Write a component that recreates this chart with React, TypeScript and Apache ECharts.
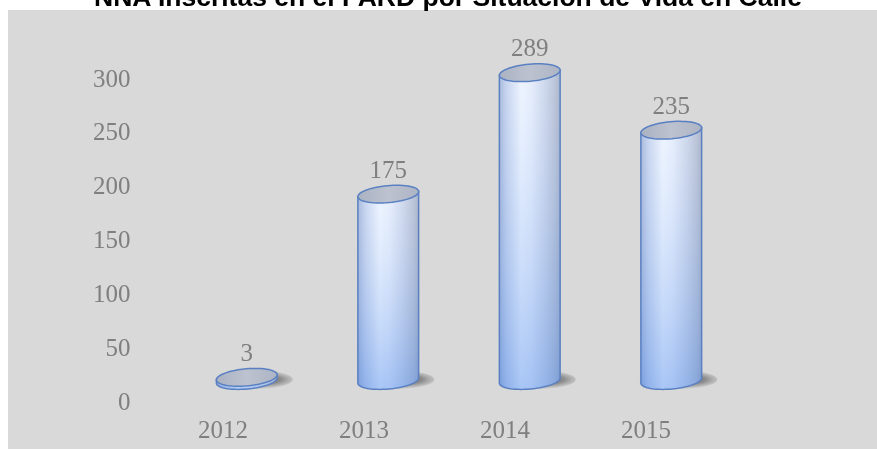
import React, { useEffect, useRef } from "react";
import * as echarts from "echarts";

const titleText = "NNA Inscritas en el PARD por Situación de Vida en Calle";
const years = ["2012", "2013", "2014", "2015"];
const counts = [3, 175, 289, 235];
const yMin = 0;
const yMax = 300;
const yStep = 50;

const TILT = 0.09;

function tiltPt(cx: number, cy: number, rx: number, ry: number, t: number) {
  const x = rx * Math.cos(t);
  const y = ry * Math.sin(t);
  const c = Math.cos(TILT);
  const s = Math.sin(TILT);
  return [cx + x * c + y * s, cy - x * s + y * c];
}

const CylBody = (echarts.graphic as any).extendShape({
  type: "cylBody",
  shape: { cx: 0, top: 0, base: 0, rx: 0, ry: 0 },
  buildPath(ctx: any, sh: any) {
    const n = 40;
    const tl = tiltPt(sh.cx, sh.top, sh.rx, sh.ry, Math.PI);
    ctx.moveTo(tl[0], tl[1]);
    for (let k = 0; k <= n; k++) {
      const t = Math.PI - (Math.PI * k) / n;
      const p = tiltPt(sh.cx, sh.base, sh.rx, sh.ry, t);
      ctx.lineTo(p[0], p[1]);
    }
    const tr = tiltPt(sh.cx, sh.top, sh.rx, sh.ry, 0);
    ctx.lineTo(tr[0], tr[1]);
    ctx.closePath();
  },
});
(echarts.graphic as any).registerShape("cylBody", CylBody);

const TiltEllipse = (echarts.graphic as any).extendShape({
  type: "tiltEllipse",
  shape: { cx: 0, cy: 0, rx: 0, ry: 0 },
  buildPath(ctx: any, sh: any) {
    const n = 60;
    for (let k = 0; k <= n; k++) {
      const t = (2 * Math.PI * k) / n;
      const p = tiltPt(sh.cx, sh.cy, sh.rx, sh.ry, t);
      if (k === 0) ctx.moveTo(p[0], p[1]);
      else ctx.lineTo(p[0], p[1]);
    }
    ctx.closePath();
  },
});
(echarts.graphic as any).registerShape("tiltEllipse", TiltEllipse);

const labelFont = '"Liberation Serif", "Times New Roman", serif';
const labelColor = "#7f7f7f";
const edgeColor = "#5a80c2";

function renderCylinder(params: any, api: any) {
  const i = api.value(0);
  const v = api.value(1);
  const top = api.coord([i, v]);
  const bot = api.coord([i, 0]);
  const cx = top[0];
  const rx = 30.5;
  const ry = 8.5;
  const bodyShape = { cx, top: top[1], base: bot[1], rx, ry };
  return {
    type: "group",
    children: [
      {
        type: "ellipse",
        shape: { cx: cx + 2, cy: bot[1] - 1, rx: 44, ry: 10 },
        style: {
          fill: new echarts.graphic.RadialGradient(0.6, 0.5, 0.5, [
            { offset: 0, color: "rgba(45,45,45,0.85)" },
            { offset: 0.55, color: "rgba(70,70,70,0.5)" },
            { offset: 1, color: "rgba(130,130,130,0)" },
          ]),
        },
      },
      {
        type: "cylBody",
        shape: bodyShape,
        style: {
          fill: new echarts.graphic.LinearGradient(0, 0, 1, 0, [
            { offset: 0, color: "#8ea3cf" },
            { offset: 0.12, color: "#b7c8ea" },
            { offset: 0.36, color: "#e8f1ff" },
            { offset: 0.52, color: "#dfe9fc" },
            { offset: 0.75, color: "#bfcce6" },
            { offset: 0.92, color: "#a5b1cb" },
            { offset: 1, color: "#909db8" },
          ]),
          stroke: "none",
        },
      },
      {
        type: "cylBody",
        shape: bodyShape,
        style: {
          fill: new echarts.graphic.LinearGradient(0, 0, 0, 1, [
            { offset: 0, color: "rgba(255,255,255,0.25)" },
            { offset: 1, color: "rgba(105,155,235,0.5)" },
          ]),
          stroke: "none",
        },
      },
      {
        type: "cylBody",
        shape: bodyShape,
        style: { fill: "none", stroke: edgeColor, lineWidth: 1.5 },
      },
      {
        type: "tiltEllipse",
        shape: { cx, cy: top[1], rx, ry },
        style: {
          fill: new echarts.graphic.LinearGradient(0, 0, 1, 0, [
            { offset: 0, color: "#aab2c3" },
            { offset: 0.5, color: "#bcc2cf" },
            { offset: 1, color: "#adb4c4" },
          ]),
          stroke: edgeColor,
          lineWidth: 1.5,
        },
      },
      {
        type: "text",
        x: cx,
        y: top[1] - 25,
        style: {
          text: String(v),
          fill: labelColor,
          font: `25px ${labelFont}`,
          align: "center",
          verticalAlign: "middle",
        },
      },
    ],
  };
}

export default function App() {
  const ref = useRef<HTMLDivElement>(null);
  useEffect(() => {
    if (!ref.current) return;
    const chart = echarts.init(ref.current, undefined, { renderer: "svg" });
    chart.setOption({
      animation: false,
      graphic: [
        {
          type: "rect",
          z: -10,
          shape: { x: 8, y: 10, width: 869, height: 439 },
          style: { fill: "#d9d9d9" },
          silent: true,
        },
        {
          type: "text",
          x: 448,
          y: -3.5,
          style: {
            text: titleText,
            font: 'bold 26.5px "Liberation Sans", Arial, sans-serif',
            fill: "#000000",
            align: "center",
            verticalAlign: "middle",
          },
        },
      ],
      grid: [
        { left: 152.5, width: 564, top: 78, height: 323, containLabel: false },
        { left: 176, width: 566, top: 61, height: 319.5, containLabel: false },
      ],
      xAxis: [
        {
          type: "category",
          gridIndex: 0,
          data: years,
          axisLine: { show: false },
          axisTick: { show: false },
          axisLabel: { color: labelColor, fontFamily: labelFont, fontSize: 25, margin: 16 },
        },
        {
          type: "category",
          gridIndex: 1,
          data: years,
          show: false,
        },
      ],
      yAxis: [
        {
          type: "value",
          gridIndex: 0,
          min: yMin,
          max: yMax,
          interval: yStep,
          axisLine: { show: false },
          axisTick: { show: false },
          splitLine: { show: false },
          axisLabel: { color: labelColor, fontFamily: labelFont, fontSize: 25, margin: 22 },
        },
        {
          type: "value",
          gridIndex: 1,
          min: yMin,
          max: yMax,
          interval: yStep,
          show: false,
        },
      ],
      series: [
        {
          type: "custom",
          xAxisIndex: 1,
          yAxisIndex: 1,
          clip: false,
          renderItem: renderCylinder,
          encode: { x: 0, y: 1 },
          data: counts.map((c, i) => [i, c]),
        },
      ],
    });
    return () => chart.dispose();
  }, []);
  return (
    <div
      ref={ref}
      style={{ position: "fixed", left: 0, top: 0, width: 877, height: 449 }}
    />
  );
}
